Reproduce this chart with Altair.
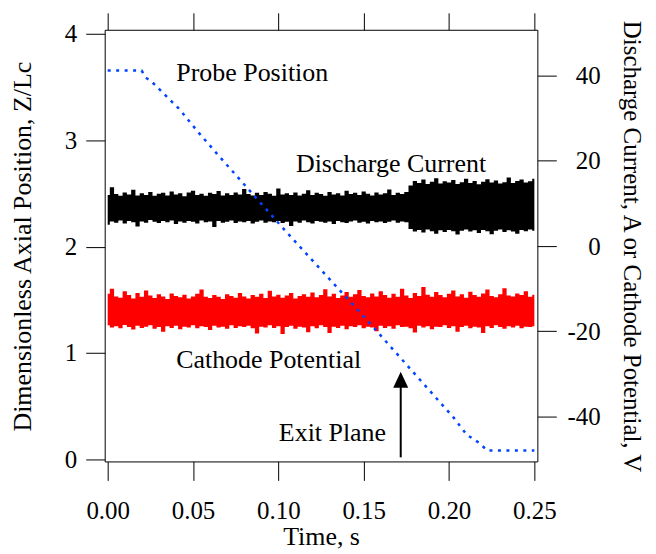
import altair as alt
import pandas as pd

# ---------------- data ----------------
# Probe position (left axis, Z/Lc) vs time (s)
probe_t = [0.0, 0.0199, 0.0222, 0.0257, 0.0339, 0.0421, 0.0526, 0.0637, 0.0859,
           0.1051, 0.153, 0.2027, 0.2103, 0.2173, 0.2225, 0.25]
probe_z = [3.654, 3.654, 3.589, 3.551, 3.421, 3.290, 3.084, 2.879, 2.477,
           2.131, 1.29, 0.393, 0.234, 0.159, 0.084, 0.084]

# sampling times of the noisy traces (every 2.5 ms)
band_t = [round(i * 0.0025, 4) for i in range(101)]

# Discharge current envelope (A, right axis)
current_hi = [12.0, 13.8, 12.2, 11.8, 12.6, 12.1, 13.2, 11.9, 12.4, 12.0,
              12.7, 11.8, 12.3, 12.5, 11.9, 12.8, 12.1, 12.4, 11.7, 12.6,
              13.0, 12.0, 12.3, 11.8, 12.5, 12.2, 12.9, 11.9, 12.4, 12.0,
              12.6, 12.1, 13.4, 12.2, 11.9, 12.5, 12.0, 12.7, 12.3, 11.8,
              13.5, 12.1, 12.4, 12.0, 12.6, 11.9, 12.3, 13.1, 12.0, 12.5,
              12.2, 11.8, 12.7, 12.1, 12.4, 11.9, 13.0, 12.2, 12.5, 12.0,
              12.8, 12.3, 11.9, 12.6, 12.1, 12.4, 13.3, 12.0, 12.5, 12.2, 12.7,
              14.2, 15.3, 14.8, 15.6, 14.6, 15.1, 15.9, 14.7, 15.2, 14.9,
              15.5, 14.6, 15.0, 15.8, 14.8, 15.3, 14.5, 15.1, 15.7, 14.9,
              15.4, 14.7, 15.0, 16.1, 14.8, 15.3, 15.6, 14.9, 15.2, 15.8]
current_lo = [5.0, 5.8, 5.5, 6.0, 5.3, 5.9, 5.6, 4.6, 5.8, 5.5,
              6.1, 5.7, 5.4, 5.9, 5.6, 6.0, 5.2, 5.8, 5.5, 5.9,
              5.7, 5.3, 6.0, 5.6, 5.8, 4.5, 5.9, 5.5, 5.7, 6.0,
              5.4, 5.8, 5.6, 5.9, 5.3, 5.7, 6.0, 5.5, 5.8, 5.6,
              5.9, 5.4, 5.7, 4.7, 5.8, 5.5, 6.0, 5.6, 5.3, 5.9,
              5.7, 5.5, 5.8, 5.2, 5.9, 5.6, 5.4, 5.8, 6.0, 5.5,
              5.7, 5.3, 5.9, 5.6, 5.8, 5.4, 5.7, 6.0, 5.5, 5.8, 5.6,
              4.0, 3.4, 3.8, 3.2, 3.9, 3.5, 2.9, 3.7, 3.3, 3.8,
              3.5, 2.7, 3.6, 3.9, 3.4, 3.7, 3.1, 3.8, 3.5, 2.8,
              3.6, 3.9, 3.3, 3.7, 3.4, 2.9, 3.8, 3.5, 3.9, 3.6]

# Cathode potential envelope (V, right axis)
cathode_hi = [-11.2, -10.0, -11.8, -12.1, -10.6, -11.5, -12.3, -11.0, -11.9, -10.4,
              -11.6, -12.2, -11.3, -11.8, -12.4, -11.1, -11.7, -12.0, -11.4, -12.3,
              -11.8, -11.2, -10.2, -11.9, -12.2, -11.5, -11.9, -12.4, -11.3, -11.7,
              -12.1, -11.0, -11.8, -12.3, -11.5, -11.9, -11.2, -12.2, -10.5, -11.8,
              -11.4, -12.1, -11.6, -11.0, -12.3, -11.7, -11.3, -11.9, -10.9, -12.0,
              -11.5, -10.1, -11.8, -11.2, -12.2, -11.6, -10.8, -11.9, -11.3, -10.3,
              -11.7, -12.0, -11.1, -11.8, -10.6, -11.5, -12.1, -11.2, -11.9, -10.0,
              -11.6, -12.2, -11.0, -11.7, -9.6, -11.4, -11.9, -10.8, -11.5, -12.0,
              -11.2, -10.4, -11.8, -11.3, -12.1, -10.7, -11.5, -11.9, -11.1, -10.2,
              -11.7, -12.0, -11.3, -9.9, -11.6, -11.8, -11.1, -11.5, -10.6, -11.9, -11.4]
cathode_lo = [-18.6, -19.1, -18.8, -19.3, -18.5, -19.0, -19.6, -18.7, -19.2, -18.9,
              -18.6, -19.4, -19.0, -20.1, -18.8, -19.2, -18.7, -19.5, -18.9, -19.1,
              -18.6, -19.3, -18.8, -19.0, -19.7, -18.7, -19.1, -18.9, -19.4, -18.6,
              -19.2, -18.8, -19.0, -18.7, -19.3, -20.5, -18.9, -19.1, -18.6, -19.2,
              -18.8, -20.6, -19.0, -18.7, -19.4, -18.9, -19.1, -20.2, -18.8, -19.3,
              -18.6, -19.0, -20.4, -18.9, -19.2, -18.7, -19.5, -18.8, -19.0, -18.6,
              -19.3, -18.9, -19.1, -20.0, -18.7, -19.2, -18.8, -19.4, -18.6, -19.0,
              -18.9, -19.3, -20.3, -18.7, -19.1, -18.8, -19.5, -18.9, -19.0, -18.6,
              -19.2, -18.8, -20.1, -19.0, -18.7, -19.3, -18.9, -19.1, -20.4, -18.8,
              -19.2, -18.6, -19.0, -19.4, -18.8, -19.1, -18.7, -19.3, -18.9, -19.0, -18.8]

# Annotations (data coordinates: time, Z/Lc)
label_text = ["Probe Position", "Discharge Current", "Cathode Potential", "Exit Plane"]
label_t = [0.0847, 0.166, 0.0943, 0.1317]
label_z = [3.63, 2.78, 0.935, 0.25]
exit_t = [0.1717]
exit_z0 = [0.02]
exit_z1 = [0.70]
arrow_z = [0.749]

x_ticks = [0.0, 0.05, 0.10, 0.15, 0.20, 0.25]
left_ticks = [0, 1, 2, 3, 4]
right_ticks = [-40, -20, 0, 20, 40]

# ---------------- tables ----------------
probe_df = pd.DataFrame({"t": probe_t, "z": probe_z})
band_df = pd.DataFrame({"t": band_t, "chi": current_hi, "clo": current_lo,
                        "khi": cathode_hi, "klo": cathode_lo})
label_df = pd.DataFrame({"text": label_text, "t": label_t, "z": label_z})
exit_df = pd.DataFrame({"t": exit_t, "z0": exit_z0, "z1": exit_z1, "za": arrow_z})

FONT = "Liberation Serif"
FS = 26

x_scale = alt.Scale(domain=[-0.00175, 0.25175], nice=False, zero=False)
yl_scale = alt.Scale(domain=[-0.0187, 4.0375], nice=False, zero=False)
yr_scale = alt.Scale(domain=[-50.53, 50.76], nice=False, zero=False)

common_axis = dict(grid=False, domainColor="black", tickColor="black", labelColor="black",
                   titleColor="black", labelFont=FONT, titleFont=FONT, labelFontSize=25,
                   titleFontWeight="normal", domainWidth=1, tickWidth=1)

x_bottom = alt.Axis(orient="bottom", values=x_ticks, format=".2f", tickSize=19,
                    labelPadding=18, title="Time, s", titleX=217, titleY=75,
                    titleFontSize=FS,
                    titleBaseline="middle", titleAlign="center", labelFlush=False,
                    **common_axis)
x_top = alt.Axis(orient="top", values=x_ticks, tickSize=17, labels=False, title="",
                 **common_axis)
y_left = alt.Axis(orient="left", values=left_ticks, tickSize=19, labelPadding=9,
                  title="Dimensionless Axial Position, Z/Lc", titleAngle=-90,
                  titleFontSize=FS,
                  titleX=-82, titleY=217, titleBaseline="middle", titleAlign="center",
                  **common_axis)
y_right = alt.Axis(orient="right", values=right_ticks, tickSize=19, labelPadding=44,
                   labelAlign="right",
                   labelExpr="datum.value < 0 ? '-' + abs(datum.value) : '' + datum.value",
                   title="Discharge Current, A or Cathode Potential, V", titleAngle=90,
                   titleFontSize=25,
                   titleX=94, titleY=217, titleBaseline="middle", titleAlign="center",
                   **common_axis)

probe = alt.Chart(probe_df).mark_line(
    color="#0044ff", strokeWidth=2.5, strokeDash=[3, 5.5]
).encode(
    x=alt.X("t:Q", scale=x_scale, axis=x_bottom),
    y=alt.Y("z:Q", scale=yl_scale, axis=y_left),
)

current = alt.Chart(band_df).mark_area(color="black", opacity=1, interpolate="step").encode(
    x=alt.X("t:Q", scale=x_scale, axis=x_top),
    y=alt.Y("chi:Q", scale=yr_scale, axis=y_right),
    y2="clo:Q",
)
cathode = alt.Chart(band_df).mark_area(color="#ff0000", opacity=1, interpolate="step").encode(
    x=alt.X("t:Q", scale=x_scale, axis=None),
    y=alt.Y("khi:Q", scale=yr_scale, axis=None),
    y2="klo:Q",
)

labels = alt.Chart(label_df).mark_text(
    font=FONT, fontSize=FS, color="black", align="center", baseline="middle"
).encode(
    x=alt.X("t:Q", scale=x_scale, axis=None),
    y=alt.Y("z:Q", scale=yl_scale, axis=None),
    text="text:N",
)

exit_rule = alt.Chart(exit_df).mark_rule(color="black", strokeWidth=2).encode(
    x=alt.X("t:Q", scale=x_scale, axis=None),
    y=alt.Y("z0:Q", scale=yl_scale, axis=None),
    y2="z1:Q",
)

exit_head = alt.Chart(exit_df).mark_point(
    shape="M0,-1L0.94,1L-0.94,1Z", filled=True, color="black", opacity=1, size=256
).encode(
    x=alt.X("t:Q", scale=x_scale, axis=None),
    y=alt.Y("za:Q", scale=yl_scale, axis=None),
)

chart = alt.layer(current, cathode, probe, labels, exit_rule, exit_head).resolve_scale(
    y="independent"
).resolve_axis(
    x="independent"
).properties(
    width=434, height=433,
    autosize="none",
    padding={"left": 97, "top": 21, "right": 111, "bottom": 90},
    background="white",
).configure_view(stroke=None)

chart.save("out.html", embed_options={"renderer": "svg", "actions": False})
